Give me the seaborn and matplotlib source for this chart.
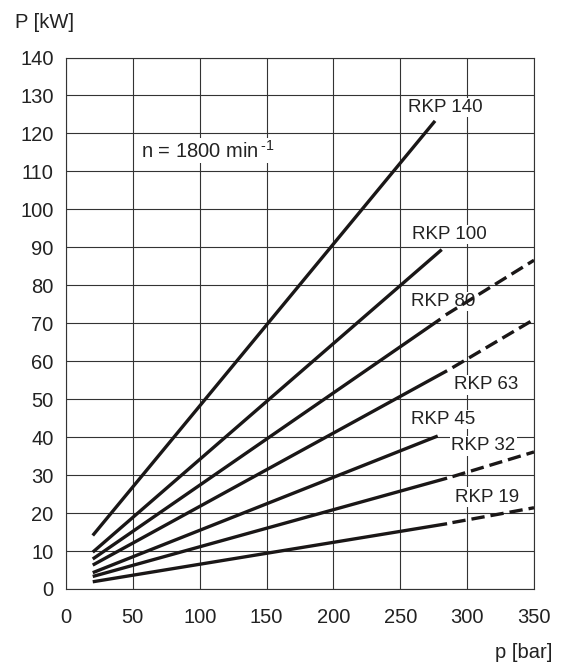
import numpy as np
import pandas as pd
import matplotlib
matplotlib.use("Agg")
import matplotlib.pyplot as plt
import seaborn as sns

# pump sizes
models = ["RKP 19", "RKP 32", "RKP 45", "RKP 63", "RKP 80", "RKP 100", "RKP 140"]
p_start = [20, 20, 20, 20, 20, 20, 20]
P_start = [1.9, 3.3, 4.3, 6.3, 7.9, 9.7, 14.1]
p_solid_end = [285, 285, 278, 285, 280, 281, 276]
P_solid_end = [17.2, 29.2, 40.3, 57.5, 71.1, 89.4, 123.3]
# dashed extension (None = no extension)
p_dash_start = [289, 289, None, 289, 284, None, None]
P_dash_start = [17.5, 29.6, None, 58.3, 72.2, None, None]
p_dash_end = [350, 350, None, 350, 350, None, None]
P_dash_end = [21.4, 36.1, None, 71.0, 86.6, None, None]

# label positions (left edge, vertical centre) in data units
label_x = [291, 288, 258, 290, 258, 259, 256]
label_y = [24.2, 37.7, 44.6, 53.8, 75.7, 93.4, 126.8]

x_ticks = [0, 50, 100, 150, 200, 250, 300, 350]
y_ticks = [0, 10, 20, 30, 40, 50, 60, 70, 80, 90, 100, 110, 120, 130, 140]

sns.set_style("white")
plt.rcParams["font.family"] = ["Liberation Sans", "DejaVu Sans"]
plt.rcParams["mathtext.fontset"] = "custom"
plt.rcParams["mathtext.rm"] = "Liberation Sans"
plt.rcParams["mathtext.default"] = "regular"

fig = plt.figure(figsize=(5.68, 6.66), dpi=100)
ax = fig.add_axes([66 / 568, 1 - 589 / 666, (534 - 66) / 568, (589 - 57.5) / 666])

line_col = "#1a1717"
lw = 2.4

for i, m in enumerate(models):
    solid = pd.DataFrame({"p": [p_start[i], p_solid_end[i]],
                          "P": [P_start[i], P_solid_end[i]]})
    sns.lineplot(data=solid, x="p", y="P", ax=ax, color=line_col, lw=lw,
                 solid_capstyle="butt", zorder=5)
    if p_dash_end[i] is not None:
        dash = pd.DataFrame({"p": [p_dash_start[i], p_dash_end[i]],
                             "P": [P_dash_start[i], P_dash_end[i]]})
        sns.lineplot(data=dash, x="p", y="P", ax=ax, color=line_col, lw=lw,
                     dashes=(4, 1.8), dash_capstyle="butt", zorder=5)
    ax.text(label_x[i], label_y[i], m, fontsize=13.5, ha="left", va="center",
            color="#222222", zorder=3,
            bbox=dict(facecolor="white", edgecolor="none", pad=1.0))

ax.text(56, 115.5, r"n = 1800 min$^{\,\text{-}1}$", fontsize=14.5, ha="left",
        va="center", color="#222222", zorder=3,
        bbox=dict(facecolor="white", edgecolor="none", pad=1.5))

ax.set_xlim(0, 350)
ax.set_ylim(0, 140)
ax.set_xticks(x_ticks)
ax.set_yticks(y_ticks)
ax.set_xlabel("")
ax.set_ylabel("")
ax.grid(True, color="#333333", lw=0.8, zorder=1)
ax.set_axisbelow(True)
for s in ax.spines.values():
    s.set_color("#333333")
    s.set_linewidth(0.8)
ax.tick_params(axis="x", length=0, pad=14, labelsize=14.5, labelcolor="#222222")
ax.tick_params(axis="y", length=0, pad=9, labelsize=14.5, labelcolor="#222222")

fig.text(15 / 568, 1 - 23 / 666, "P [kW]", fontsize=14.5, ha="left", va="center",
         color="#222222")
fig.text(552 / 568, 1 - 652 / 666, "p [bar]", fontsize=14.5, ha="right", va="center",
         color="#222222")

fig.savefig("out.png", dpi=100, facecolor="white")
